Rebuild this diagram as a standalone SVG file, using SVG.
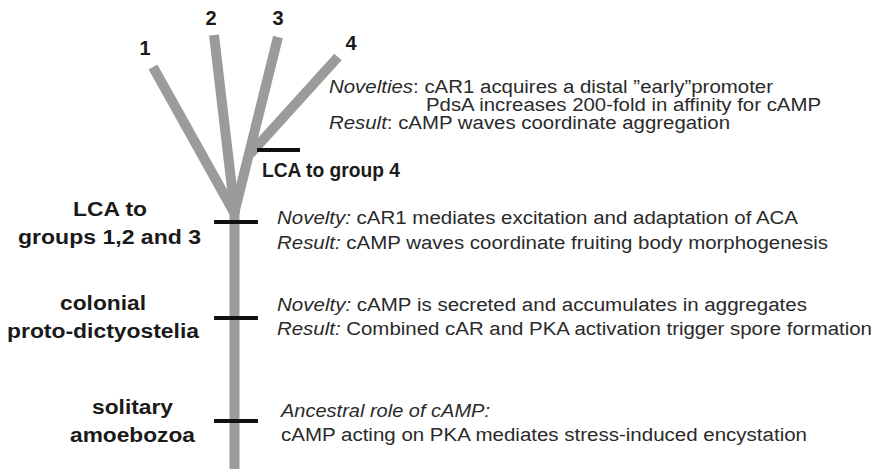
<svg xmlns="http://www.w3.org/2000/svg" width="877" height="469" viewBox="0 0 877 469">
<style>
.br{stroke:#9b9b9b;stroke-width:10;stroke-linecap:butt;fill:none}
.tk{stroke:#111;stroke-width:4}
.lb{font-family:"Liberation Sans",Arial,sans-serif;font-weight:bold;font-size:20px;fill:#1a1a1a}
.num{font-family:"Liberation Sans",Arial,sans-serif;font-weight:bold;font-size:20px;fill:#1a1a1a;text-anchor:middle}
.tx{font-family:"Liberation Sans",Arial,sans-serif;font-size:18px;fill:#2a2a2a}
.it{font-style:italic}
</style>
<rect width="877" height="469" fill="#fff"/>
<g id="connectors">
<line class="br" x1="234.5" y1="206" x2="234.5" y2="469"/>
<line class="br" x1="153" y1="67" x2="235" y2="214"/>
<line class="br" x1="214" y1="35" x2="235" y2="214"/>
<line class="br" x1="278" y1="37" x2="234" y2="214"/>
<line class="br" x1="338" y1="57" x2="250" y2="154"/>
</g>
<g id="labels-groups">
<text class="num" x="145" y="55">1</text>
<text class="num" x="211" y="25">2</text>
<text class="num" x="278" y="25">3</text>
<text class="num" x="351" y="50">4</text>
</g>
<g id="node-lca4">
<line class="tk" x1="257" y1="150" x2="300" y2="150"/>
<text class="lb" x="262" y="177" textLength="138" lengthAdjust="spacingAndGlyphs">LCA to group 4</text>
<text class="tx" x="329" y="93" textLength="444" lengthAdjust="spacingAndGlyphs"><tspan class="it">Novelties</tspan>: cAR1 acquires a distal ”early”promoter</text>
<text class="tx" x="426" y="111" textLength="395" lengthAdjust="spacingAndGlyphs">PdsA increases 200-fold in affinity for cAMP</text>
<text class="tx" x="329" y="129" textLength="401" lengthAdjust="spacingAndGlyphs"><tspan class="it">Result</tspan>: cAMP waves coordinate aggregation</text>
</g>
<g id="node-lca123">
<line class="tk" x1="214" y1="222" x2="258" y2="222"/>
<text class="lb" x="73" y="216" textLength="74" lengthAdjust="spacingAndGlyphs">LCA to</text>
<text class="lb" x="18" y="244" textLength="183" lengthAdjust="spacingAndGlyphs">groups 1,2 and 3</text>
<text class="tx" x="277" y="224" textLength="521" lengthAdjust="spacingAndGlyphs"><tspan class="it">Novelty:</tspan> cAR1 mediates excitation and adaptation of ACA</text>
<text class="tx" x="277" y="249" textLength="551" lengthAdjust="spacingAndGlyphs"><tspan class="it">Result:</tspan> cAMP waves coordinate fruiting body morphogenesis</text>
</g>
<g id="node-colonial">
<line class="tk" x1="214" y1="318" x2="258" y2="318"/>
<text class="lb" x="60" y="310" textLength="86" lengthAdjust="spacingAndGlyphs">colonial</text>
<text class="lb" x="7" y="338" textLength="192" lengthAdjust="spacingAndGlyphs">proto-dictyostelia</text>
<text class="tx" x="277" y="311" textLength="530" lengthAdjust="spacingAndGlyphs"><tspan class="it">Novelty:</tspan> cAMP is secreted and accumulates in aggregates</text>
<text class="tx" x="277" y="335" textLength="595" lengthAdjust="spacingAndGlyphs"><tspan class="it">Result:</tspan> Combined cAR and PKA activation trigger spore formation</text>
</g>
<g id="node-solitary">
<line class="tk" x1="214" y1="421" x2="258" y2="421"/>
<text class="lb" x="92" y="414" textLength="81" lengthAdjust="spacingAndGlyphs">solitary</text>
<text class="lb" x="70" y="442" textLength="125" lengthAdjust="spacingAndGlyphs">amoebozoa</text>
<text class="tx it" x="281" y="417" textLength="209" lengthAdjust="spacingAndGlyphs">Ancestral role of cAMP:</text>
<text class="tx" x="281" y="441" textLength="526" lengthAdjust="spacingAndGlyphs">cAMP acting on PKA mediates stress-induced encystation</text>
</g>
</svg>
